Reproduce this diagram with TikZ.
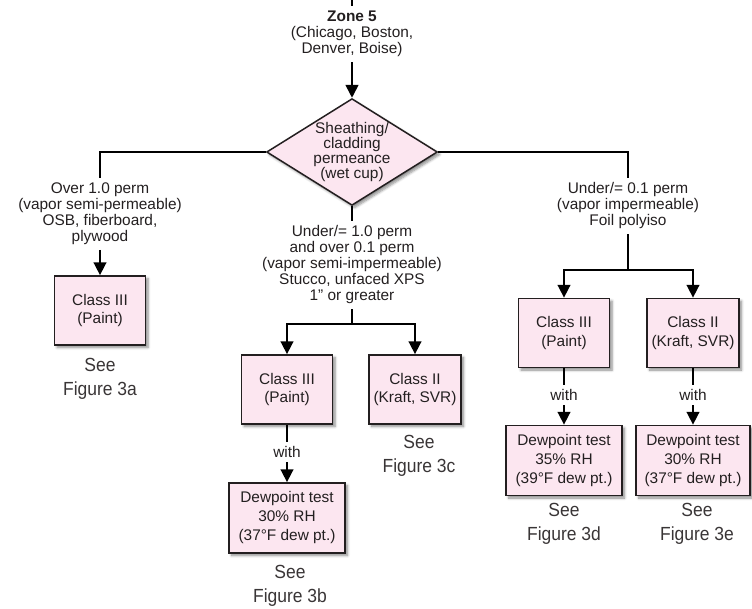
\documentclass[tikz,border=0pt]{standalone}
\usepackage{fontspec}
\setmainfont{Liberation Sans}
\newfontfamily\seefont{Liberation Sans}[FakeStretch=0.92]
\usepackage{tikz}
\usetikzlibrary{arrows.meta}
\usetikzlibrary{shapes.geometric}
\usetikzlibrary{shadows.blur}
\definecolor{boxpink}{RGB}{252,230,240}
\definecolor{ink}{RGB}{35,31,32}

\begin{document}
\begin{tikzpicture}[x=1pt,y=-1pt,>={Triangle[length=13pt,width=12.5pt]},line width=2.7pt,
	soft shadow/.style={blur shadow={shadow xshift=2.5pt,shadow yshift=-2.5pt,shadow blur radius=2.5pt,shadow blur steps=6,shadow opacity=45}},
	text node/.style={align=center,inner sep=3.5pt,text=ink,font=\fontsize{15.4}{16}\selectfont},
	class box/.style={rectangle,draw=ink,line width=1.5pt,fill=boxpink,minimum width=91pt,minimum height=69pt,align=center,text=ink,font=\fontsize{15.4}{18.5}\selectfont,soft shadow},
	test box/.style={class box,minimum width=116pt,minimum height=70pt,font=\fontsize{15.4}{19}\selectfont},
	choice/.style={diamond,aspect=1.6,inner sep=-0.5pt,draw=ink,line width=1.5pt,fill=boxpink,align=center,text=ink,font=\fontsize{15.4}{15.3}\selectfont,soft shadow},
	see/.style={align=center,inner sep=0pt,text=ink!90,font=\seefont\fontsize{19}{24}\selectfont}]

	\useasboundingbox (0,0) rectangle (752,608);

				\node[text node,inner sep=4pt] (zone) at (352,34) {\textbf{Zone 5}\\(Chicago, Boston,\\Denver, Boise)};
				\node[choice] (perm) at (352,152) {Sheathing/\\cladding\\permeance\\(wet cup)};
				\node[text node] (over) at (100,214) {Over 1.0 perm\\(vapor semi-permeable)\\OSB, fiberboard,\\plywood};
				\node[text node] (semi) at (352,265) {Under/= 1.0 perm\\and over 0.1 perm\\(vapor semi-impermeable)\\Stucco, unfaced XPS\\1" or greater};
				\node[text node] (imp) at (628,206) {Under/= 0.1 perm\\(vapor impermeable)\\Foil polyiso};

				\node[class box] (ca) at (100,310.5) {Class III\\(Paint)};
				\node[class box] (cb) at (287,389.5) {Class III\\(Paint)};
				\node[class box,minimum width=92pt] (cc) at (415,389.5) {Class II\\(Kraft, SVR)};
				\node[class box] (cd) at (564,333) {Class III\\(Paint)};
				\node[class box,minimum width=92pt] (ce) at (693,333) {Class II\\(Kraft, SVR)};

				\node[text node] (wb) at (287,452) {with};
				\node[text node] (wd) at (564,395) {with};
				\node[text node] (we) at (693,395) {with};

				\node[test box] (tb) at (287,518) {Dewpoint test\\30\% RH\\(37°F dew pt.)};
				\node[test box] (td) at (564,460.5) {Dewpoint test\\35\% RH\\(39°F dew pt.)};
				\node[test box,minimum width=114pt] (te) at (693,460.5) {Dewpoint test\\30\% RH\\(37°F dew pt.)};

				\node[see] (sa) at (100,379) {See\\Figure 3a};
				\node[see] (sb) at (290,586) {See\\Figure 3b};
				\node[see] (sc) at (419,456) {See\\Figure 3c};
				\node[see] (sd) at (564,524) {See\\Figure 3d};
				\node[see] (se) at (697,524) {See\\Figure 3e};

				\coordinate (in) at (352,0);
				\coordinate (jb) at (352,324);
				\coordinate (jd) at (628,270);

				\draw (in) -- (zone.north);
				\draw[->] (zone.south) -- (perm.north);
				\draw (perm.west) -| (over.north);
				\draw (perm.east) -| (imp.north);
				\draw (perm.south) -- (semi.north);
				\draw[->] (over.south) -- (ca.north);
				\draw (semi.south) -- (jb);
				\draw[->] (jb) -| (cb.north);
				\draw[->] (jb) -| (cc.north);
				\draw (imp.south) -- (jd);
				\draw[->] (jd) -| (cd.north);
				\draw[->] (jd) -| (ce.north);
				\draw (cb.south) -- (wb.north);
				\draw[->] (wb.south) -- (tb.north);
				\draw (cd.south) -- (wd.north);
				\draw[->] (wd.south) -- (td.north);
				\draw (ce.south) -- (we.north);
				\draw[->] (we.south) -- (te.north);

			\end{tikzpicture}
\end{document}
